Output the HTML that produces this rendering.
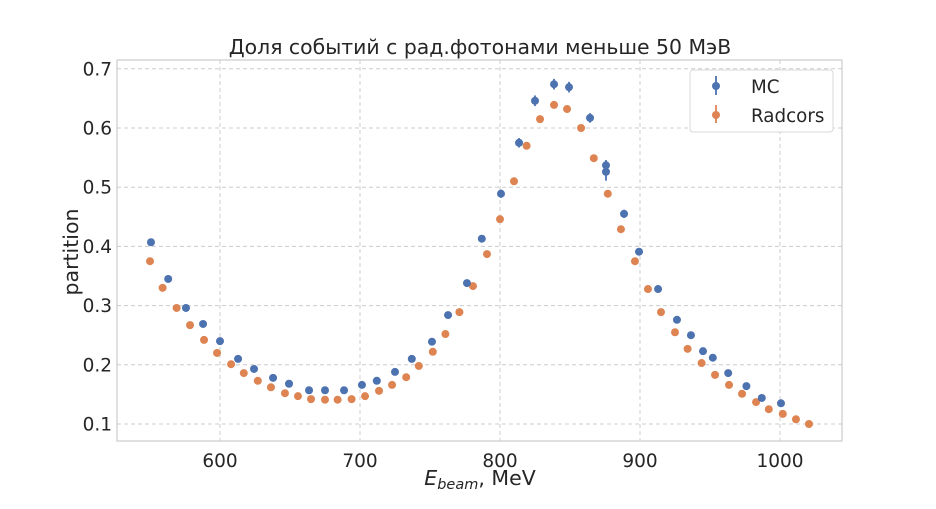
<!DOCTYPE html>
<html><head><meta charset="utf-8"><style>
body{margin:0;background:#fff;}
svg text{font-family:"DejaVu Sans","Liberation Sans",sans-serif;fill:#262626;}
</style></head><body>
<svg id="chart" width="936" height="504" xmlns="http://www.w3.org/2000/svg">
<text x="480" y="54" font-size="20.4" text-anchor="middle">Доля событий с рад.фотонами меньше 50 МэВ</text>
<g id="grid"></g>
<rect x="117" y="60" width="725" height="381" fill="none" stroke="#cccccc" stroke-width="1.2"/>
<g id="ticks"></g>
<g id="marks"></g>
<text transform="translate(78,252) rotate(-90)" font-size="20.5" text-anchor="middle">partition</text>
<text x="480" y="485" font-size="20.5" text-anchor="middle"><tspan font-style="italic">E</tspan><tspan font-style="italic" font-size="14.5" dy="4">beam</tspan><tspan dy="-4">, MeV</tspan></text>
<g>
<rect x="690" y="70" width="143" height="62" rx="3" fill="#fff" stroke="#d8d8d8"/>
<g><line x1="716" y1="76" x2="716" y2="95" stroke="#4c72b0" stroke-width="1.8"/><circle cx="716" cy="86" r="4" fill="#4c72b0"/><text x="751" y="93" font-size="18.3">MC</text></g>
<g><line x1="716" y1="105" x2="716" y2="123" stroke="#dd8452" stroke-width="1.8"/><circle cx="716" cy="115" r="4" fill="#dd8452"/><text x="751" y="122" font-size="18.3">Radcors</text></g>
</g>
</svg>
<script>
const xTicks=[600,700,800,900,1000];
const yTicks=[0.1,0.2,0.3,0.4,0.5,0.6,0.7];
const mcX=[550.7,563,575.7,587.9,600,612.9,624.3,637.9,649.3,663.6,675,688.6,701.4,712,725,737,751.4,762.9,776.4,787,800.7,813.6,825,838.6,849.3,864.3,875.7,875.7,888.6,899.3,912.9,926.4,936.4,945,952,963,976,987,1000.7];
const mcY=[0.407,0.345,0.296,0.269,0.240,0.210,0.193,0.178,0.168,0.157,0.157,0.157,0.166,0.173,0.188,0.210,0.239,0.284,0.338,0.413,0.489,0.575,0.646,0.674,0.669,0.617,0.537,0.526,0.455,0.391,0.328,0.276,0.250,0.223,0.212,0.186,0.164,0.144,0.135];
const mcErr=[0.006,0.005,0.004,0.004,0.004,0.004,0.003,0.003,0.003,0.003,0.003,0.003,0.003,0.003,0.003,0.003,0.004,0.004,0.005,0.006,0.007,0.008,0.009,0.009,0.009,0.008,0.009,0.015,0.007,0.006,0.005,0.004,0.004,0.004,0.003,0.003,0.003,0.003,0.003];
const rcX=[550,559,569,578.6,588.6,597.9,607.9,617,627,636.4,646.4,655.7,665,675,684,694,703.6,713.6,722.9,733,742,752,761,771,780.7,790.7,800,810,819,828.6,838.6,847.9,857.9,867,877,886.4,896.4,905.7,915,925,934,944,953.6,963.6,972.9,982.9,992,1002,1011.4,1020.7];
const rcY=[0.375,0.330,0.296,0.267,0.242,0.220,0.201,0.186,0.173,0.162,0.152,0.147,0.142,0.141,0.141,0.142,0.147,0.156,0.166,0.179,0.198,0.222,0.252,0.289,0.333,0.387,0.446,0.510,0.570,0.615,0.639,0.632,0.600,0.549,0.489,0.429,0.375,0.328,0.289,0.255,0.227,0.203,0.183,0.166,0.151,0.137,0.125,0.117,0.108,0.100];
const NS="http://www.w3.org/2000/svg";
const L=117,R=842,T=60,B=441;
function sx(v){return 220+(v-600)*1.4;}
function sy(v){return 424-(v-0.1)*592;}
function mk(tag,attrs,parent){const e=document.createElementNS(NS,tag);for(const k in attrs)e.setAttribute(k,attrs[k]);parent.appendChild(e);return e;}
const grid=document.getElementById('grid'),ticks=document.getElementById('ticks'),marks=document.getElementById('marks');
xTicks.forEach(t=>{const x=sx(t);
 const g=mk('line',{x1:x,x2:x,y1:T,y2:B,stroke:'#cccccc','stroke-dasharray':'4,3'},grid);
 
 
 const l=mk('text',{x:x,y:B+26,'font-size':18.5,'text-anchor':'middle'},ticks);l.textContent=t;
 
 
});
yTicks.forEach(t=>{const y=sy(t);
 const g=mk('line',{x1:L,x2:R,y1:y,y2:y,stroke:'#cccccc','stroke-dasharray':'4,3'},grid);
 
 
 const l=mk('text',{x:L-5,y:y+6.5,'font-size':18.5,'text-anchor':'end'},ticks);l.textContent=t.toFixed(1);
 
 
});
rcX.forEach((v,i)=>{
 const c=mk('circle',{cx:sx(v),cy:sy(rcY[i]),r:4,fill:'#dd8452'},marks);
 
 
});
mcX.forEach((v,i)=>{
 const x=sx(v);
 const e=mk('line',{x1:x,x2:x,y1:sy(mcY[i]+mcErr[i]),y2:sy(mcY[i]-mcErr[i]),stroke:'#4c72b0','stroke-width':1.8},marks);
 
 
 const c=mk('circle',{cx:x,cy:sy(mcY[i]),r:4,fill:'#4c72b0'},marks);
 
 
});
</script>
</body></html>
